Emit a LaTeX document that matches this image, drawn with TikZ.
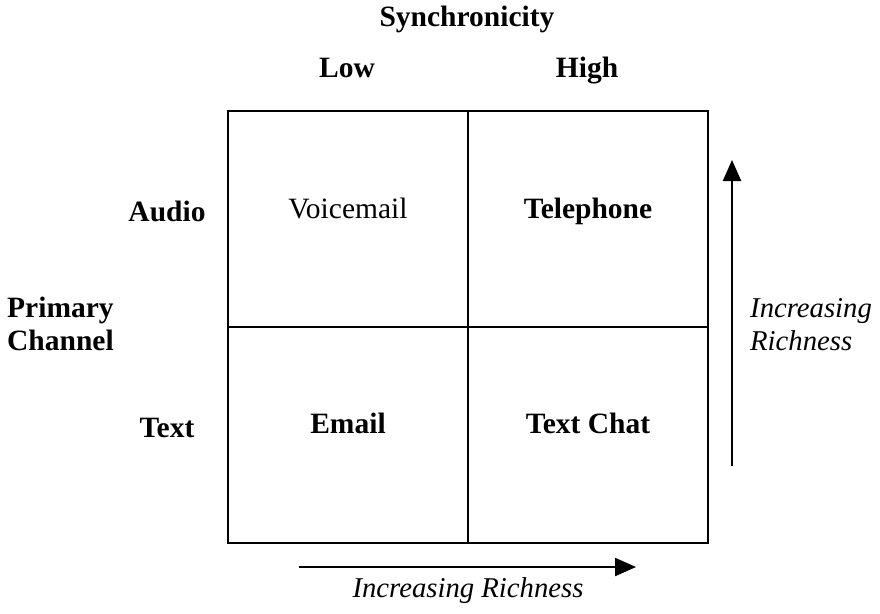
\documentclass[tikz,border=0pt]{standalone}
\usepackage{fontspec}
\setmainfont{Liberation Serif}
\usetikzlibrary{arrows.meta}
\begin{document}
\begin{tikzpicture}[x=1pt,y=-1pt,
  lbl/.style={font=\fontsize{29.5}{33}\selectfont\bfseries, inner sep=0pt, anchor=base},
  celltxt/.style={font=\fontsize{29.5}{33}\selectfont, inner sep=0pt, anchor=base},
  cellbold/.style={font=\fontsize{29.5}{33}\selectfont\bfseries, inner sep=0pt, anchor=base},
  itxt/.style={font=\fontsize{28.7}{33}\selectfont\itshape, inner sep=0pt},
  gridline/.style={line width=2.2pt},
  richarrow/.style={line width=2.2pt, -{Triangle[length=21pt,width=18pt]}}]
\useasboundingbox (0,0) rectangle (880,613);
% grid
\draw[gridline] (228,111) rectangle (708,543);
\draw[gridline] (468,111) -- (468,543);
\draw[gridline] (228,327) -- (708,327);
% header labels
\node[lbl] (sync) at (467,27) {Synchronicity};
\node[lbl] (low) at (347,77) {Low};
\node[lbl] (high) at (587,77) {High};
\node[lbl] (audio) at (167,221) {Audio};
\node[lbl] (text) at (167,437) {Text};
\node[lbl, anchor=base west] (primary) at (7,317) {Primary};
\node[lbl, anchor=base west] (channel) at (7,350) {Channel};
% cells
\node[celltxt] (voice) at (348,218) {Voicemail};
\node[cellbold] (tel) at (588,218) {Telephone};
\node[cellbold] (email) at (348,433) {Email};
\node[cellbold] (chat) at (588,433) {Text Chat};
% arrows
\coordinate (hs) at (299,567);
\coordinate (he) at (636,567);
\draw[richarrow] (hs) -- (he);
\node[itxt, anchor=base] (hrich) at (468,597) {Increasing Richness};
\coordinate (vs) at (732,466);
\coordinate (ve) at (732,160);
\draw[richarrow] (vs) -- (ve);
\node[itxt, anchor=base west] (vinc) at (750,317) {Increasing};
\node[itxt, anchor=base west] (vrich) at (750,350) {Richness};
\end{tikzpicture}
\end{document}
